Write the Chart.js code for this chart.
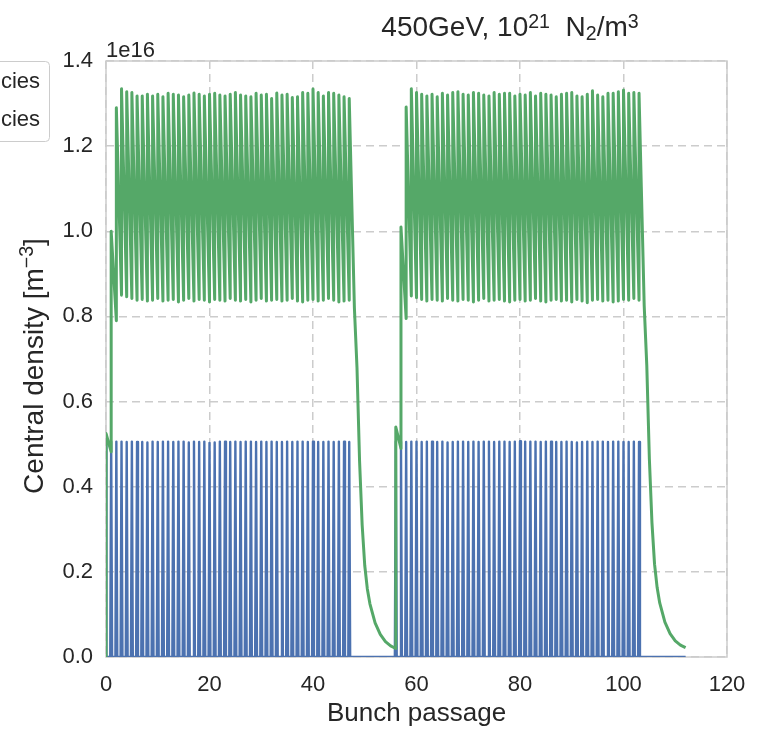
<!DOCTYPE html>
<html>
<head>
<meta charset="utf-8">
<script src="https://cdn.jsdelivr.net/npm/chart.js@4/dist/chart.umd.min.js"></script>
<style>
  html, body { margin: 0; padding: 0; background: #fff; }
  #wrap { width: 761px; height: 729px; }
</style>
</head>
<body>
<div id="wrap"><canvas id="myChart" width="761" height="729"></canvas></div>
<script>
// all densities in units of 1e16 m^-3
const train1Bunches = [
  0, 1, 2, 3, 4, 5, 6, 7, 8, 9, 10, 11, 12, 13, 14, 15,
  16, 17, 18, 19, 20, 21, 22, 23, 24, 25, 26, 27, 28, 29, 30, 31,
  32, 33, 34, 35, 36, 37, 38, 39, 40, 41, 42, 43, 44, 45, 46, 47
];
const train2Bunches = [
  56, 57, 58, 59, 60, 61, 62, 63, 64, 65, 66, 67, 68, 69, 70, 71,
  72, 73, 74, 75, 76, 77, 78, 79, 80, 81, 82, 83, 84, 85, 86, 87,
  88, 89, 90, 91, 92, 93, 94, 95, 96, 97, 98, 99, 100, 101, 102, 103
];

// blue series: peak at each bunch passage
const blueTrain1 = [
  0.507, 0.506, 0.506, 0.506, 0.505, 0.506, 0.505, 0.505,
  0.504, 0.506, 0.505, 0.506, 0.506, 0.505, 0.506, 0.506,
  0.504, 0.506, 0.505, 0.506, 0.503, 0.504, 0.506, 0.506,
  0.505, 0.506, 0.505, 0.506, 0.506, 0.505, 0.506, 0.505,
  0.506, 0.505, 0.505, 0.506, 0.505, 0.506, 0.506, 0.505,
  0.506, 0.505, 0.505, 0.506, 0.505, 0.506, 0.506, 0.505
];
const blueTrain2 = [
  0.506, 0.506, 0.505, 0.506, 0.506, 0.505, 0.506, 0.506,
  0.505, 0.506, 0.504, 0.505, 0.506, 0.506, 0.505, 0.506,
  0.505, 0.506, 0.506, 0.505, 0.506, 0.506, 0.505, 0.506,
  0.507, 0.506, 0.506, 0.506, 0.505, 0.506, 0.506, 0.505,
  0.505, 0.506, 0.505, 0.504, 0.505, 0.506, 0.505, 0.506,
  0.506, 0.505, 0.506, 0.506, 0.505, 0.505, 0.506, 0.505
];
const blueEnd = 112;

// green series: value just before the bunch and right after it
const greenTrain1Troughs = [
  0.000, 0.482, 0.790, 0.850, 0.846, 0.842, 0.838, 0.840,
  0.836, 0.838, 0.842, 0.836, 0.838, 0.840, 0.834, 0.838,
  0.842, 0.836, 0.840, 0.838, 0.834, 0.840, 0.838, 0.836,
  0.842, 0.838, 0.836, 0.840, 0.834, 0.838, 0.842, 0.836,
  0.838, 0.840, 0.836, 0.838, 0.842, 0.836, 0.834, 0.838,
  0.840, 0.836, 0.838, 0.842, 0.838, 0.834, 0.836, 0.838
];
const greenTrain1Peaks = [
  0.525, 1.000, 1.290, 1.335, 1.328, 1.326, 1.318, 1.318,
  1.322, 1.318, 1.322, 1.316, 1.324, 1.322, 1.320, 1.316,
  1.320, 1.325, 1.322, 1.318, 1.322, 1.324, 1.320, 1.318,
  1.322, 1.326, 1.320, 1.318, 1.316, 1.324, 1.320, 1.322,
  1.312, 1.325, 1.320, 1.322, 1.314, 1.316, 1.326, 1.324,
  1.334, 1.326, 1.318, 1.326, 1.324, 1.320, 1.316, 1.312
];
const greenTrain2Troughs = [
  0.020, 0.490, 0.795, 0.848, 0.844, 0.840, 0.836, 0.840,
  0.838, 0.836, 0.842, 0.838, 0.836, 0.840, 0.838, 0.834,
  0.838, 0.842, 0.836, 0.838, 0.840, 0.836, 0.834, 0.838,
  0.840, 0.836, 0.838, 0.842, 0.836, 0.834, 0.838, 0.840,
  0.836, 0.838, 0.834, 0.840, 0.836, 0.832, 0.838, 0.840,
  0.836, 0.838, 0.834, 0.836, 0.840, 0.838, 0.842, 0.838
];
const greenTrain2Peaks = [
  0.540, 1.010, 1.292, 1.335, 1.326, 1.322, 1.318, 1.322,
  1.316, 1.324, 1.320, 1.326, 1.328, 1.322, 1.320, 1.326,
  1.324, 1.320, 1.318, 1.326, 1.322, 1.324, 1.324, 1.318,
  1.322, 1.320, 1.326, 1.318, 1.324, 1.322, 1.320, 1.316,
  1.322, 1.324, 1.326, 1.318, 1.316, 1.322, 1.330, 1.320,
  1.316, 1.324, 1.324, 1.328, 1.332, 1.324, 1.326, 1.324
];
// decay after the last bunch of a train (bunch passages after last bunch)
const decayOffsets = [1, 1.5, 2, 2.5, 3, 3.5, 4, 5, 6, 7, 8, 9];
const decayTrain1 = [0.820, 0.680, 0.460, 0.310, 0.215, 0.160, 0.125, 0.080, 0.053, 0.036, 0.026, 0.020];
const decayTrain2 = [0.825, 0.685, 0.465, 0.315, 0.218, 0.163, 0.127, 0.082, 0.055, 0.038, 0.028, 0.022];

const xTicks = [0, 20, 40, 60, 80, 100, 120];
const yTicks = [0.0, 0.2, 0.4, 0.6, 0.8, 1.0, 1.2, 1.4];
const seriesLabels = ["Single species", "Both species"];

const BLUE = "#4C72B0";
const GREEN = "#55A868";
const TEXT = "#262626";
const FONT = "'Liberation Sans', Arial, sans-serif";

function bluePoints() {
  const pts = [];
  const add = (bunches, peaks) => {
    bunches.forEach((b, i) => {
      pts.push({ x: Math.max(0, b - 0.18), y: 0 });
      pts.push({ x: b, y: peaks[i] });
      pts.push({ x: b + 0.18, y: 0 });
    });
  };
  add(train1Bunches, blueTrain1);
  add(train2Bunches, blueTrain2);
  pts.push({ x: blueEnd, y: 0 });
  return pts;
}

function greenPoints() {
  const pts = [];
  const add = (bunches, troughs, peaks, decay) => {
    bunches.forEach((b, i) => {
      pts.push({ x: b, y: troughs[i] });
      pts.push({ x: b, y: peaks[i] });
    });
    const last = bunches[bunches.length - 1];
    decayOffsets.forEach((d, j) => pts.push({ x: last + d, y: decay[j] }));
  };
  add(train1Bunches, greenTrain1Troughs, greenTrain1Peaks, decayTrain1);
  add(train2Bunches, greenTrain2Troughs, greenTrain2Peaks, decayTrain2);
  return pts;
}

// text pieces with super/subscripts (s = shift in em)
function richText(ctx, parts, x, y, size, align) {
  const widths = parts.map(p => {
    ctx.font = (p.s ? size * 0.7 : size) + "px " + FONT;
    return ctx.measureText(p.t).width;
  });
  const total = widths.reduce((a, b) => a + b, 0);
  let cx = align === "center" ? x - total / 2 : x;
  ctx.textAlign = "left";
  ctx.textBaseline = "alphabetic";
  parts.forEach((p, i) => {
    ctx.font = (p.s ? size * 0.7 : size) + "px " + FONT;
    ctx.fillText(p.t, cx, y - (p.s || 0) * size);
    cx += widths[i];
  });
}

const decorations = {
  id: "decorations",
  beforeDatasetsDraw(chart) {
    const { ctx, chartArea: a } = chart;
    ctx.save();
    ctx.strokeStyle = "#cccccc";
    ctx.lineWidth = 1.5;
    ctx.strokeRect(a.left, a.top, a.right - a.left, a.bottom - a.top);
    ctx.restore();
  },
  afterDraw(chart) {
    const { ctx, chartArea: a } = chart;
    ctx.save();
    ctx.fillStyle = TEXT;

    // title
    richText(ctx, [
      { t: "450GeV, 10" }, { t: "21", s: 0.3 }, { t: "  N" },
      { t: "2", s: -0.15 }, { t: "/m" }, { t: "3", s: 0.3 }
    ], 510, 36, 28, "center");

    // offset text
    ctx.font = "22px " + FONT;
    ctx.textAlign = "left";
    ctx.fillText("1e16", a.left, 57);

    // x label
    ctx.font = "26px " + FONT;
    ctx.textAlign = "center";
    ctx.fillText("Bunch passage", (a.left + a.right) / 2, 721);

    // y label
    ctx.save();
    ctx.translate(43, 366);
    ctx.rotate(-Math.PI / 2);
    richText(ctx, [
      { t: "Central density [m" }, { t: "\u22123", s: 0.35 }, { t: "]" }
    ], 0, 0, 28, "center");
    ctx.restore();

    // legend (mostly outside the picture)
    ctx.fillStyle = "#ffffff";
    ctx.strokeStyle = "#cccccc";
    ctx.lineWidth = 1;
    ctx.beginPath();
    ctx.roundRect(-200.5, 61.5, 250, 80, 4);
    ctx.fill();
    ctx.stroke();
    ctx.fillStyle = TEXT;
    ctx.font = "22px " + FONT;
    ctx.textAlign = "right";
    ctx.fillText(seriesLabels[0], 40, 88);
    ctx.fillText(seriesLabels[1], 40, 126);
    ctx.restore();
  }
};

Chart.defaults.font.family = FONT;
Chart.defaults.color = TEXT;

new Chart(document.getElementById("myChart"), {
  type: "line",
  data: {
    datasets: [
      {
        label: seriesLabels[0],
        data: bluePoints(),
        borderColor: BLUE,
        borderWidth: 2.4,
        pointRadius: 0,
        tension: 0,
        fill: false,
        borderJoinStyle: "round",
        order: 1
      },
      {
        label: seriesLabels[1],
        data: greenPoints(),
        borderColor: GREEN,
        borderWidth: 3,
        pointRadius: 0,
        tension: 0,
        fill: false,
        borderJoinStyle: "round",
        order: 0
      }
    ]
  },
  options: {
    responsive: false,
    animation: false,
    layout: { padding: { top: 61, right: 34, left: 0, bottom: 0 } },
    plugins: { legend: { display: false }, tooltip: { enabled: false } },
    scales: {
      x: {
        type: "linear",
        min: 0,
        max: 120,
        afterBuildTicks: s => { s.ticks = xTicks.map(v => ({ value: v })); },
        afterFit: s => { s.height = 72; },
        ticks: { font: { size: 22 }, padding: 15, color: TEXT, maxRotation: 0 },
        grid: { color: "#cccccc", lineWidth: 1.5, drawTicks: false },
        border: { display: false, dash: [8, 5] }
      },
      y: {
        min: 0,
        max: 1.4,
        afterBuildTicks: s => { s.ticks = yTicks.map(v => ({ value: v })); },
        afterFit: s => { s.width = 106; },
        ticks: { font: { size: 22 }, padding: 13, color: TEXT, callback: v => v.toFixed(1) },
        grid: { color: "#cccccc", lineWidth: 1.5, drawTicks: false },
        border: { display: false, dash: [8, 5] }
      }
    }
  },
  plugins: [decorations]
});
</script>
</body>
</html>
